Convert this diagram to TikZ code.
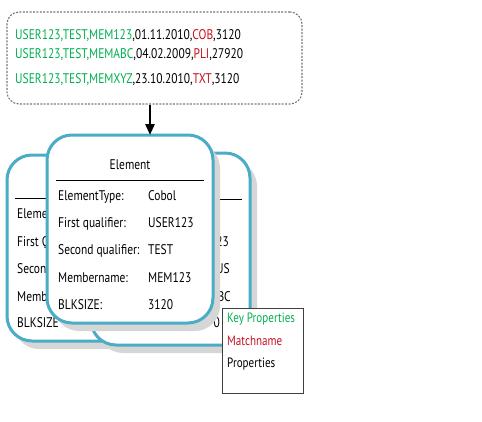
\documentclass[tikz,border=0pt]{standalone}
\usepackage{fontspec}
\setmainfont{PT Sans}[FakeStretch=0.82]
\usetikzlibrary{shadows,arrows.meta}
\definecolor{cardblue}{RGB}{75,172,198}
\definecolor{kgreen}{RGB}{0,176,80}
\definecolor{kred}{RGB}{200,16,30}
\definecolor{boxgray}{RGB}{120,120,120}
\begin{document}
\begin{tikzpicture}[x=1pt,y=-1pt,
  card/.style={draw=cardblue, line width=3pt, fill=white, rounded corners=25pt,
    inner sep=0pt, outer sep=0pt,
    drop shadow={shadow xshift=7pt, shadow yshift=-8pt, fill=black!16, opacity=1}},
  txt/.style={anchor=base west, inner sep=0pt, font=\fontsize{14}{16}\selectfont},
  ctxt/.style={txt, anchor=base},
  etxt/.style={txt, anchor=base east},
  ltxt/.style={txt, font=\fontsize{13.5}{16}\selectfont},
  sepline/.style={line width=0.9pt, black},
  flow/.style={line width=2.6pt, -{Triangle[width=9pt,length=11pt]}}
]
\useasboundingbox (0,0) rectangle (482,421);

% source box
\node[draw=boxgray, line width=1.1pt, dash pattern=on 2pt off 1.4pt, rounded corners=12pt,
  minimum width=295pt, minimum height=92pt, inner sep=0pt] (src) at (154.5,58) {};
\node[txt] (l1) at (15,39) {{\color{kgreen}USER123,TEST,MEM123},01.11.2010,{\color{kred}COB},3120};
\node[txt] (l2) at (15,58) {{\color{kgreen}USER123,TEST,MEMABC},04.02.2009,{\color{kred}PLI},27920};
\node[txt] (l3) at (15,83) {{\color{kgreen}USER123,TEST,MEMXYZ},23.10.2010,{\color{kred}TXT},3120};

% back card 1
\node[card, minimum width=165pt, minimum height=186pt] (c1) at (89.5,248) {};
\draw[sepline] (15,198) -- (120,198);
\node[txt] (c1a) at (17,218) {Eleme};
\node[txt] (c1b) at (17,246) {First Q};
\node[txt] (c1c) at (17,273) {Secon};
\node[txt] (c1d) at (17,301) {Memb};
\node[txt] (c1e) at (17,327) {BLKSIZE};

% back card 2
\node[card, minimum width=159pt, minimum height=192pt] (c2) at (170.5,249) {};
\draw[sepline] (150,199) -- (242,199);
\node[etxt] (c2b) at (229,246) {23};
\node[etxt] (c2c) at (230,273) {US};
\node[etxt] (c2d) at (231,301) {BC};
\node[etxt] (c2e) at (220,327) {0};

% front card
\node[card, minimum width=166pt, minimum height=188pt] (front) at (130,229) {};
\node[ctxt] (ft) at (130,169) {Element};
\draw[sepline] (56,180) -- (204,180);
\node[txt] (fa) at (58,200) {ElementType:};
\node[txt] (fb) at (58,227) {First qualifier:};
\node[txt] (fc) at (58,254) {Second qualifier:};
\node[txt] (fd) at (58,282) {Membername:};
\node[txt] (fe) at (58,309) {BLKSIZE:};
\node[txt] (va) at (148,200) {Cobol};
\node[txt] (vb) at (148,227) {USER123};
\node[txt] (vc) at (148,254) {TEST};
\node[txt] (vd) at (148,282) {MEM123};
\node[txt] (ve) at (148,309) {3120};

% arrow
\coordinate (ax) at (150,0);
\draw[flow] (src.south -| ax) -- (front.north -| ax);

% legend
\node[draw=black!75, line width=1pt, fill=white, anchor=north west,
  minimum width=81pt, minimum height=85pt, inner sep=0pt] (legend) at (222,308) {};
\node[ltxt, text=kgreen] (k1) at (227,322) {Key Properties};
\node[ltxt, text=kred] (k2) at (227,345) {Matchname};
\node[ltxt] (k3) at (227,367) {Properties};
\end{tikzpicture}
\end{document}
